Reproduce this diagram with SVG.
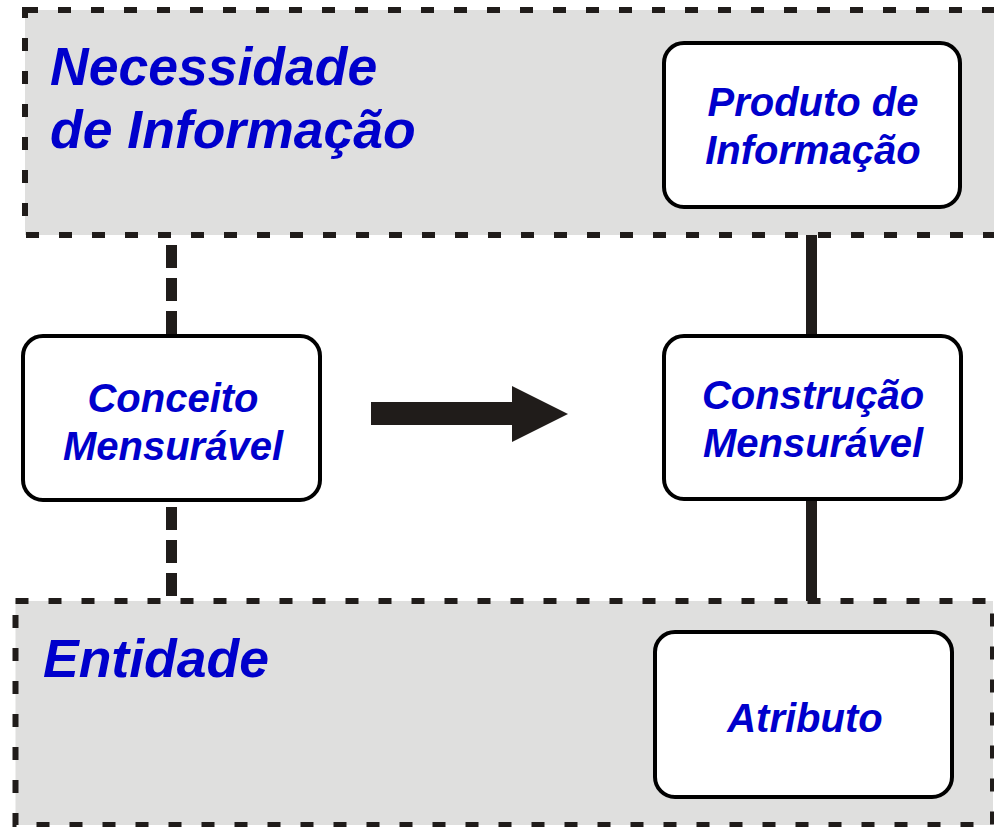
<svg xmlns="http://www.w3.org/2000/svg" width="994" height="827" viewBox="0 0 994 827">
<style>
.area{fill:#dfdfde;stroke:#201c1a;stroke-width:6;stroke-dasharray:13 20}
.node rect{fill:#fff;stroke:#000;stroke-width:4}
.t{font-family:"Liberation Sans",Arial,sans-serif;font-weight:bold;font-style:italic;fill:#0000cc}
.title{font-size:53.5px}
.lbl{font-size:40px;text-anchor:middle}
.dash{stroke:#201c1a;stroke-width:11;stroke-dasharray:23 10;fill:none}
.solid{stroke:#201c1a;stroke-width:11;fill:none}
</style>
<rect width="994" height="827" fill="#fff"/>
<g id="necessidade">
<rect class="area" x="25" y="10" width="1000" height="225"/>
<text class="t title" x="50" y="85">Necessidade</text>
<text class="t title" x="50" y="148">de Informação</text>
</g>
<g id="entidade">
<rect class="area" x="15.5" y="601" width="977.5" height="224"/>
<text class="t title" x="43" y="677">Entidade</text>
</g>
<g id="connectors">
<line class="dash" x1="171.5" y1="245" x2="171.5" y2="334"/>
<line class="dash" x1="171.5" y1="507" x2="171.5" y2="597"/>
<line class="solid" x1="811.5" y1="235" x2="811.5" y2="335"/>
<line class="solid" x1="811.5" y1="500" x2="811.5" y2="601"/>
<polygon fill="#201c1a" points="371,402 512,402 512,386 568,414 512,442 512,425 371,425"/>
</g>
<g id="produto" class="node">
<rect x="664" y="43" width="296" height="164" rx="20"/>
<text class="t lbl" x="813" y="116">Produto de</text>
<text class="t lbl" x="813" y="164">Informação</text>
</g>
<g id="conceito" class="node">
<rect x="23" y="336" width="297" height="164" rx="20"/>
<text class="t lbl" x="173" y="412">Conceito</text>
<text class="t lbl" x="173" y="460">Mensurável</text>
</g>
<g id="construcao" class="node">
<rect x="664" y="336" width="297" height="163" rx="20"/>
<text class="t lbl" x="813" y="409">Construção</text>
<text class="t lbl" x="813" y="457">Mensurável</text>
</g>
<g id="atributo" class="node">
<rect x="655" y="632" width="297" height="165" rx="20"/>
<text class="t lbl" x="805" y="732">Atributo</text>
</g>
</svg>
